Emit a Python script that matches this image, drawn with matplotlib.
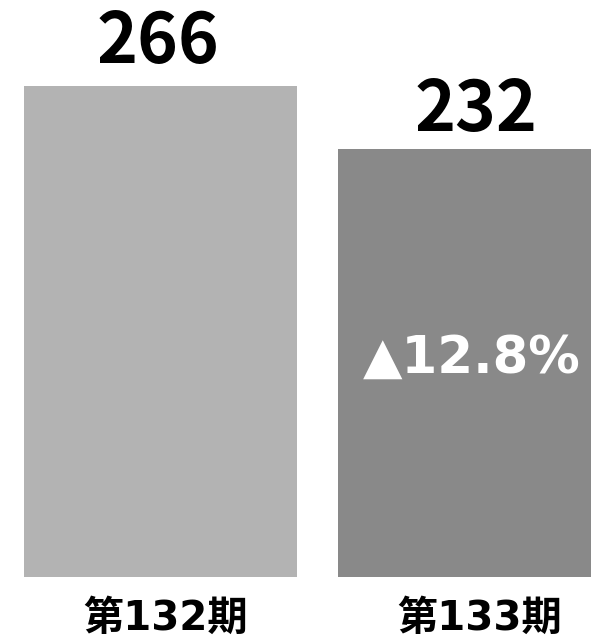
import matplotlib
matplotlib.use("Agg")
import matplotlib.pyplot as plt
import matplotlib.transforms as mtransforms

plt.rcParams['font.family'] = ['Noto Sans CJK JP', 'DejaVu Sans']

categories = ['第132期', '第133期']
values = [266, 232]
colors = ['#b3b3b3', '#898989']
change_label = '▲12.8%'

W, H = 591, 638
fig = plt.figure(figsize=(W / 100, H / 100), dpi=100)
# axes spans from bottom of bars (y=577px) to top of figure
ax = fig.add_axes([0, (H - 577) / H, 1, 577 / H])

spacing_px = 314.0
center0_px = 160.5
width_px = 273.0
x = list(range(len(categories)))
ax.bar(x, values, width=width_px / spacing_px, color=colors)
ax.set_xlim(-center0_px / spacing_px, -center0_px / spacing_px + W / spacing_px)
ax.set_ylim(0, values[0] * 577 / 491)

for xi, v, dx, dy in zip(x, values, [-2, 1], [6, 2]):
    ax.annotate(str(v), (xi, v), xytext=(dx, dy), textcoords='offset points',
                ha='center', va='bottom', fontsize=50, fontweight='bold', color='black')

ax.text(0.99, values[1] * 0.476, change_label, ha='center', va='baseline',
        fontsize=37, fontweight='bold', color='white', family=['DejaVu Sans'])

ax.set_xticks(x)
ax.set_xticklabels(categories, fontsize=29, fontweight='bold',
                   family=['DejaVu Sans', 'Noto Sans CJK JP'])
ax.tick_params(axis='x', length=0, pad=16)
shift = mtransforms.ScaledTranslation(5 / 100, 0, fig.dpi_scale_trans)
for lbl in ax.get_xticklabels():
    lbl.set_transform(lbl.get_transform() + shift)
ax.set_yticks([])
for s in ax.spines.values():
    s.set_visible(False)

fig.savefig('out.png', dpi=100)
